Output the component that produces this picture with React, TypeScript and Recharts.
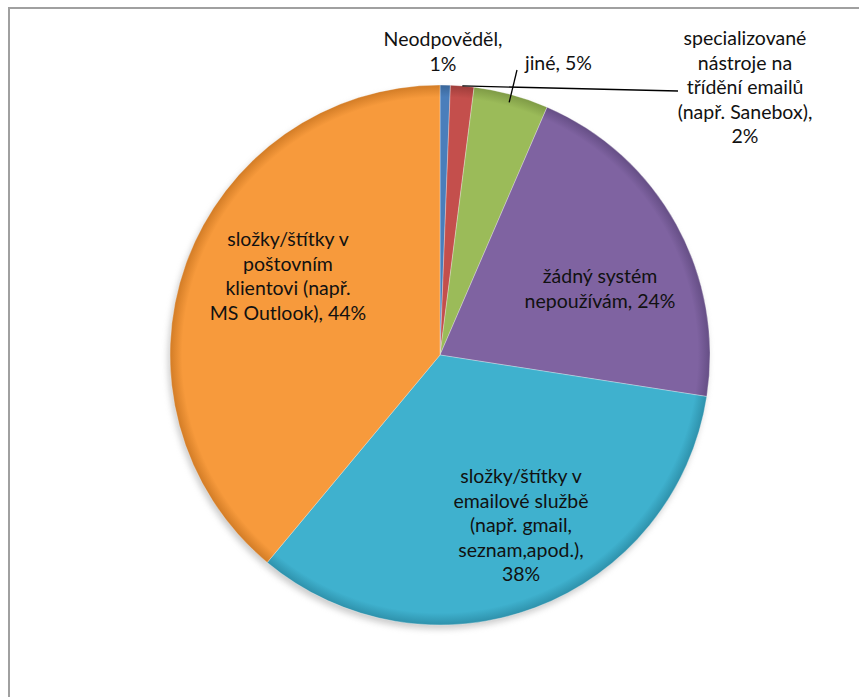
import React from 'react';
import { PieChart, Pie, Cell } from 'recharts';

const categories = [
  'Neodpověděl',
  'specializované nástroje na třídění emailů (např. Sanebox)',
  'jiné',
  'žádný systém nepoužívám',
  'složky/štítky v emailové službě (např. gmail, seznam,apod.)',
  'složky/štítky v poštovním klientovi (např. MS Outlook)',
];
// percent of respondents (multiple answers possible)
const values = [0.7, 1.6, 5.1, 23.9, 38.3, 44.4];
// category text as it is wrapped in the chart (percentage is appended to the last line)
const labelLines: string[][] = [
  ['Neodpověděl,'],
  ['specializované', 'nástroje na', 'třídění emailů', '(např. Sanebox),'],
  ['jiné,'],
  ['žádný systém', 'nepoužívám,'],
  ['složky/štítky v', 'emailové službě', '(např. gmail,', 'seznam,apod.),'],
  ['složky/štítky v', 'poštovním', 'klientovi (např.', 'MS Outlook),'],
];
// whether the percentage goes on its own line
const pctOwnLine = [true, true, false, false, true, false];

const colors = ['#4A7EBB', '#C44F4C', '#9BBB59', '#7F63A1', '#3FB1CE', '#F79A3C'];
const rimColors = ['#3A6699', '#9E3D3A', '#7E9A45', '#654E85', '#2E91AB', '#D27C26'];

const data = categories.map((name, i) => ({ name, value: values[i] }));

// label placement relative to pie centre (style, not data)
const labelLayout = [
  { dx: 3, dy: -317, anchor: 'middle', line: null },
  { dx: 305, dy: -318, anchor: 'middle', line: { x: 238, y: -264, r: 1.0 } },
  { dx: 85, dy: -293, anchor: 'start', line: { x: 77, y: -285, r: 0.97 } },
  { dx: 160, dy: -80, anchor: 'middle', line: null },
  { dx: 81, dy: 120, anchor: 'middle', line: null },
  { dx: -152, dy: -117, anchor: 'middle', line: null },
];

const CX = 440;
const CY = 355;
const R = 270;
const LINE_H = 24.5;
const FONT = 'Lato, "Open Sans", sans-serif';

const renderLabel = (props: any) => {
  const { cx, cy, midAngle, outerRadius, index, value } = props;
  const lay = labelLayout[index];
  const pct = `${Math.round(value)}%`;
  const base = labelLines[index];
  const lines = pctOwnLine[index]
    ? [...base, pct]
    : [...base.slice(0, -1), `${base[base.length - 1]} ${pct}`];
  const x = cx + lay.dx;
  const y0 = cy + lay.dy;
  let leader = null;
  if (lay.line) {
    const rad = (Math.PI / 180) * midAngle;
    const sx = cx + outerRadius * lay.line.r * Math.cos(rad);
    const sy = cy - outerRadius * lay.line.r * Math.sin(rad);
    leader = (
      <line x1={sx} y1={sy} x2={cx + lay.line.x} y2={cy + lay.line.y} stroke="#000" strokeWidth={1.3} />
    );
  }
  return (
    <g key={`lbl-${index}`}>
      {leader}
      <text
        x={x}
        y={y0}
        textAnchor={lay.anchor as any}
        dominantBaseline="central"
        fontFamily={FONT}
        fontSize={19.5}
        fill="#111"
      >
        {lines.map((t, i) => (
          <tspan key={i} x={x} y={y0 + i * LINE_H} dominantBaseline="central">
            {t}
          </tspan>
        ))}
      </text>
    </g>
  );
};

export default function App() {
  return (
    <div style={{ position: 'absolute', left: 0, top: 0, width: 859, height: 697, overflow: 'hidden', background: '#fff' }}>
      <div
        style={{
          position: 'absolute',
          left: 8,
          top: 7,
          width: 1000,
          height: 1000,
          borderTop: '2px solid #a0a0a0',
          borderLeft: '2px solid #a0a0a0',
        }}
      />
      <div style={{ position: 'absolute', left: 0, top: 0 }}>
        <PieChart width={859} height={697} margin={{ top: 0, right: 0, bottom: 0, left: 0 }}>
          <defs>
            <filter id="pieShadow" x="-20%" y="-20%" width="140%" height="140%">
              <feGaussianBlur stdDeviation="3" />
            </filter>
            {colors.map((c, i) => (
              <radialGradient key={i} id={`g${i}`} gradientUnits="userSpaceOnUse" cx={CX} cy={CY} r={R}>
                <stop offset="0" stopColor={c} />
                <stop offset="0.955" stopColor={c} />
                <stop offset="1" stopColor={rimColors[i]} />
              </radialGradient>
            ))}
          </defs>
          <Pie
            data={data}
            dataKey="value"
            cx={CX - 2}
            cy={CY + 4}
            outerRadius={R}
            startAngle={90}
            endAngle={-270}
            isAnimationActive={false}
            stroke="none"
            fill="#999"
            label={false}
            labelLine={false}
            style={{ filter: 'url(#pieShadow)', opacity: 0.5 }}
          />
          <Pie
            data={data}
            dataKey="value"
            cx={CX}
            cy={CY}
            outerRadius={R}
            startAngle={90}
            endAngle={-270}
            isAnimationActive={false}
            stroke="rgba(255,255,255,0.3)"
            strokeWidth={1}
            label={renderLabel}
            labelLine={false}
          >
            {data.map((d, i) => (
              <Cell key={d.name} fill={`url(#g${i})`} />
            ))}
          </Pie>
        </PieChart>
      </div>
    </div>
  );
}
